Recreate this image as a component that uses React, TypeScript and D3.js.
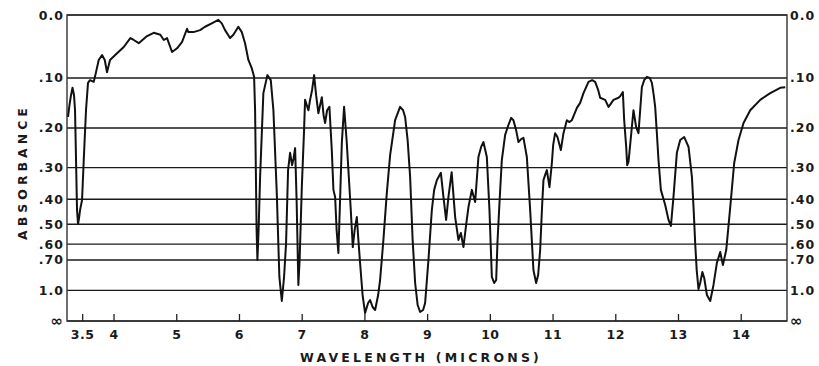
import { scaleLinear, line } from "d3";

// IR spectrum
const wavelength = [
  3.266, 3.29, 3.314, 3.338, 3.362, 3.378, 3.394, 3.41, 3.426, 3.442, 3.458, 3.49, 3.517, 3.553, 3.585, 3.617,
  3.676, 3.702, 3.756, 3.809, 3.852, 3.888, 3.936, 4.048, 4.155, 4.26, 4.314, 4.394, 4.526, 4.633, 4.738, 4.793,
  4.845, 4.925, 5.005, 5.085, 5.164, 5.185, 5.265, 5.372, 5.451, 5.558, 5.663, 5.718, 5.77, 5.85, 5.903, 5.982,
  6.037, 6.089, 6.142, 6.196, 6.233, 6.249, 6.257, 6.273, 6.286, 6.305, 6.329, 6.381, 6.445, 6.499, 6.541, 6.595,
  6.636, 6.675, 6.711, 6.743, 6.775, 6.807, 6.839, 6.863, 6.887, 6.911, 6.939, 6.959, 6.994, 7.03, 7.046, 7.099,
  7.126, 7.158, 7.19, 7.222, 7.258, 7.313, 7.341, 7.365, 7.397, 7.434, 7.472, 7.498, 7.525, 7.549, 7.577, 7.604,
  7.632, 7.668, 7.708, 7.737, 7.772, 7.807, 7.836, 7.871, 7.896, 7.923, 7.963, 8.003, 8.051, 8.083, 8.123, 8.163,
  8.211, 8.242, 8.295, 8.349, 8.402, 8.482, 8.561, 8.609, 8.641, 8.681, 8.721, 8.761, 8.801, 8.841, 8.88, 8.928,
  8.96, 9.013, 9.067, 9.104, 9.147, 9.211, 9.252, 9.295, 9.332, 9.383, 9.439, 9.491, 9.53, 9.571, 9.614, 9.651,
  9.705, 9.758, 9.81, 9.853, 9.89, 9.944, 9.986, 10.024, 10.061, 10.093, 10.113, 10.148, 10.183, 10.236, 10.289,
  10.332, 10.368, 10.411, 10.448, 10.491, 10.528, 10.582, 10.635, 10.687, 10.73, 10.762, 10.794, 10.826, 10.847,
  10.874, 10.901, 10.943, 10.981, 11.002, 11.033, 11.07, 11.124, 11.166, 11.22, 11.257, 11.3, 11.38, 11.432,
  11.485, 11.565, 11.624, 11.671, 11.719, 11.751, 11.831, 11.884, 11.919, 11.963, 12.043, 12.07, 12.113, 12.134,
  12.166, 12.182, 12.203, 12.241, 12.282, 12.325, 12.362, 12.389, 12.416, 12.453, 12.496, 12.541, 12.576, 12.605,
  12.628, 12.652, 12.681, 12.719, 12.788, 12.841, 12.879, 12.92, 12.974, 13.027, 13.091, 13.16, 13.214, 13.242,
  13.266, 13.29, 13.319, 13.346, 13.381, 13.41, 13.453, 13.506, 13.558, 13.612, 13.665, 13.708, 13.761, 13.825,
  13.888, 13.957, 14.037, 14.144, 14.303, 14.463, 14.622, 14.702,
];

const absorbance = [
  0.176, 0.151, 0.132, 0.118, 0.132, 0.162, 0.279, 0.441, 0.499, 0.473, 0.441, 0.403, 0.279, 0.162, 0.109, 0.104,
  0.107, 0.095, 0.069, 0.061, 0.069, 0.09, 0.069, 0.058, 0.048, 0.034, 0.037, 0.042, 0.031, 0.026, 0.029, 0.037,
  0.034, 0.056, 0.05, 0.04, 0.02, 0.025, 0.025, 0.022, 0.017, 0.012, 0.007, 0.012, 0.022, 0.034, 0.029, 0.017,
  0.025, 0.042, 0.069, 0.083, 0.098, 0.162, 0.253, 0.527, 0.7, 0.527, 0.327, 0.128, 0.095, 0.104, 0.162, 0.379,
  0.842, 1.184, 0.842, 0.594, 0.307, 0.26, 0.293, 0.274, 0.248, 0.403, 0.929, 0.7, 0.359, 0.205, 0.141, 0.162,
  0.141, 0.122, 0.095, 0.132, 0.168, 0.136, 0.172, 0.189, 0.162, 0.155, 0.253, 0.368, 0.392, 0.527, 0.653, 0.403,
  0.235, 0.155, 0.228, 0.307, 0.429, 0.617, 0.527, 0.469, 0.577, 0.722, 1.071, 1.583, 1.231, 1.164, 1.34, 1.444,
  1.071, 0.873, 0.577, 0.379, 0.266, 0.183, 0.155, 0.162, 0.176, 0.228, 0.327, 0.577, 0.906, 1.282, 1.532, 1.444,
  1.231, 0.7, 0.441, 0.368, 0.337, 0.315, 0.392, 0.481, 0.392, 0.313, 0.469, 0.577, 0.541, 0.617, 0.503, 0.429,
  0.368, 0.41, 0.271, 0.245, 0.233, 0.271, 0.441, 0.842, 0.906, 0.873, 0.594, 0.403, 0.279, 0.216, 0.193,
  0.178, 0.183, 0.205, 0.233, 0.226, 0.223, 0.271, 0.441, 0.778, 0.906, 0.823, 0.635, 0.421, 0.337,
  0.321, 0.307, 0.359, 0.287, 0.24, 0.212, 0.221, 0.253, 0.212, 0.183, 0.187, 0.183, 0.157, 0.147,
  0.128, 0.107, 0.104, 0.107, 0.122, 0.137, 0.141, 0.155, 0.149, 0.141, 0.137, 0.134, 0.126, 0.183,
  0.245, 0.293, 0.284, 0.221, 0.162, 0.198, 0.212, 0.162, 0.117, 0.104, 0.098, 0.1, 0.109, 0.132,
  0.155, 0.205, 0.279, 0.368, 0.421, 0.481, 0.508, 0.392, 0.26, 0.228, 0.221, 0.245, 0.327, 0.441,
  0.594, 0.778, 0.981, 0.906, 0.796, 0.852, 1.071, 1.184, 0.929, 0.722, 0.647, 0.738, 0.635, 0.429,
  0.287, 0.228, 0.189, 0.162, 0.141, 0.128, 0.118, 0.117,
];

const absTicks = [0, 0.1, 0.2, 0.3, 0.4, 0.5, 0.6, 0.7, 1.0, Infinity];
const absTickLabels = ["0.0", ".10", ".20", ".30", ".40", ".50", ".60", ".70", "1.0", "∞"];
const waveTicks = [3.5, 4, 5, 6, 7, 8, 9, 10, 11, 12, 13, 14];
const waveTickLabels = ["3.5", "4", "5", "6", "7", "8", "9", "10", "11", "12", "13", "14"];

const W = 819;
const H = 366;
const left = 67;
const right = 787;
const top = 15;
const bottom = 321;

const font = "'DejaVu Sans', sans-serif";

export default function App() {
  const x = scaleLinear().domain([3.25, 14.73]).range([left, right]);
  // ordinate is linear in transmittance, labelled in absorbance
  const y = scaleLinear().domain([0, 1]).range([bottom, top]);
  const yA = (a: number) => y(Math.pow(10, -a));

  const pts = wavelength.map((w, i) => [w, absorbance[i]] as [number, number]);
  const path = line<[number, number]>()
    .x((d) => x(d[0]))
    .y((d) => yA(d[1]))(pts);

  const labelSize = (i: number) => (absTickLabels[i] === "∞" ? 15 : 12.5);

  return (
    <svg
      width={W}
      height={H}
      style={{ position: "absolute", left: 0, top: 0, background: "#fff" }}
    >
      {/* grid */}
      {absTicks.map((a, i) => (
        <line
          key={"g" + i}
          x1={left}
          x2={right}
          y1={yA(a)}
          y2={yA(a)}
          stroke="#1a1a1a"
          strokeWidth={1.4}
        />
      ))}
      <rect
        x={left}
        y={top}
        width={right - left}
        height={bottom - top}
        fill="none"
        stroke="#333"
        strokeWidth={1.4}
      />
      {/* x ticks */}
      {waveTicks.map((w, i) => (
        <g key={"x" + i}>
          <line x1={x(w)} x2={x(w)} y1={bottom} y2={bottom - 7} stroke="#222" strokeWidth={1.3} />
          <text
            x={x(w)}
            y={339}
            textAnchor="middle"
            fontFamily={font}
            fontWeight="bold"
            fontSize={12.5}
            letterSpacing={0.5}
            fill="#1a1a1a"
          >
            {waveTickLabels[i]}
          </text>
        </g>
      ))}
      {/* y labels both sides */}
      {absTicks.map((a, i) => (
        <g key={"y" + i}>
          <text
            x={64}
            y={yA(a) + 4.5}
            textAnchor="end"
            fontFamily={font}
            fontWeight="bold"
            fontSize={labelSize(i)}
            letterSpacing={1}
            fill="#1a1a1a"
          >
            {absTickLabels[i]}
          </text>
          <text
            x={790}
            y={yA(a) + 4.5}
            textAnchor="start"
            fontFamily={font}
            fontWeight="bold"
            fontSize={labelSize(i)}
            letterSpacing={1}
            fill="#1a1a1a"
          >
            {absTickLabels[i]}
          </text>
        </g>
      ))}
      <path d={path ?? ""} fill="none" stroke="#111" strokeWidth={2} strokeLinejoin="round" />
      <text
        x={421}
        y={362}
        textAnchor="middle"
        fontFamily={font}
        fontWeight="bold"
        fontSize={12.5}
        letterSpacing={3.2}
        fill="#1a1a1a"
      >
        WAVELENGTH (MICRONS)
      </text>
      <text
        transform={`translate(27, 172) rotate(-90)`}
        textAnchor="middle"
        fontFamily={font}
        fontWeight="bold"
        fontSize={12.5}
        letterSpacing={4}
        fill="#1a1a1a"
      >
        ABSORBANCE
      </text>
    </svg>
  );
}
